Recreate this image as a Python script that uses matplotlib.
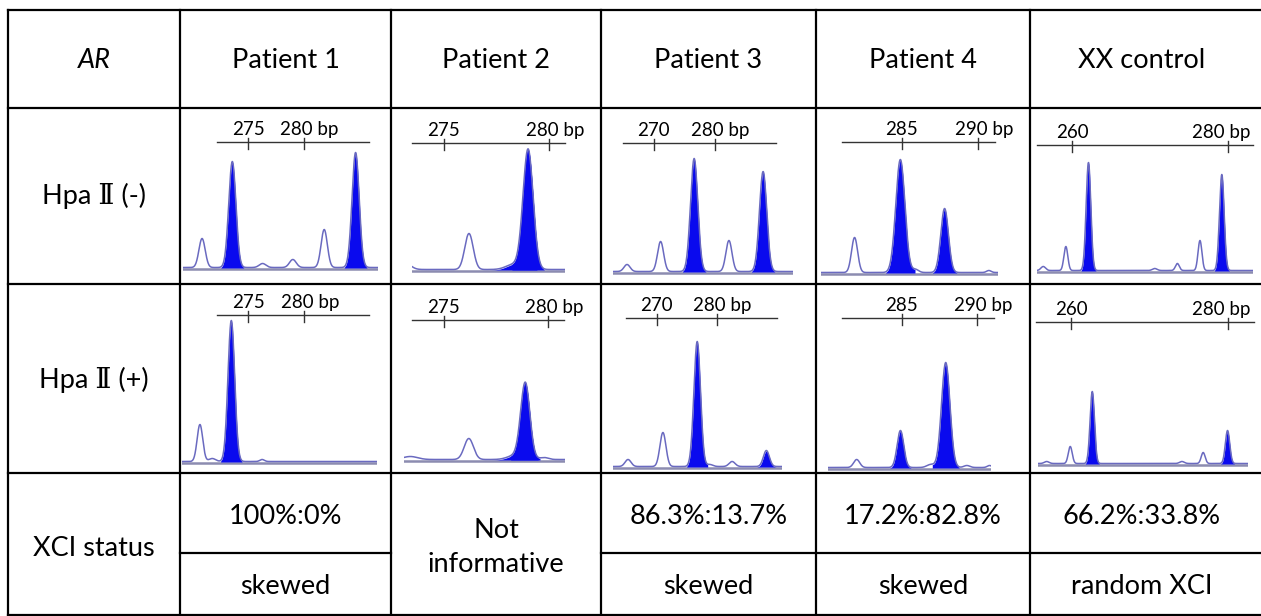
import matplotlib
matplotlib.use("Agg")
import matplotlib.pyplot as plt
import numpy as np

plt.rcParams["font.family"] = ["Lato", "DejaVu Sans"]

# table text
ROW_LABELS = ["Hpa \u2161 (-)", "Hpa \u2161 (+)", "XCI status"]
COLUMNS = ["Patient 1", "Patient 2", "Patient 3", "Patient 4", "XX control"]
XCI_RATIO = ["100%:0%", None, "86.3%:13.7%", "17.2%:82.8%", "66.2%:33.8%"]
XCI_CALL = ["skewed", None, "skewed", "skewed", "random XCI"]
NOT_INFORMATIVE = "Not\ninformative"

# size scale (bp) per column
TICK_BP = [[275, 280], [275, 280], [270, 280], [285, 290], [260, 280]]
TICK_LABELS = [["275", "280 bp"], ["275", "280 bp"], ["270", "280 bp"],
               ["285", "290 bp"], ["260", "280 bp"]]
SCALE_BP = [(272.2, 285.8), (273.5, 280.75), (264.9, 290.0), (281.05, 291.1), (255.5, 283.2)]

# Hpa II (-) traces: peak position (bp), height, width (bp), filled
TRACE_BP_MINUS = [(269.2, 286.6), (273.5, 280.75), (263.3, 292.8), (279.7, 291.3), (255.5, 283.2)]
PEAK_POS_MINUS = [
    [270.9, 273.6, 276.3, 279.0, 281.8, 284.6],
    [273.2, 276.2, 278.3, 279.0],
    [265.6, 271.1, 276.6, 282.3, 287.9],
    [281.9, 284.9, 285.9, 287.8, 290.7],
    [256.3, 259.2, 262.1, 270.6, 273.5, 276.4, 279.2],
]
PEAK_HEIGHT_MINUS = [
    [29, 106, 4, 8, 38, 115],
    [6, 36, 5, 120],
    [7, 30, 113, 31, 100],
    [35, 113, 3, 64, 2],
    [4, 24, 108, 2, 7, 30, 96],
]
PEAK_WIDTH_MINUS = [
    [0.28, 0.32, 0.3, 0.3, 0.28, 0.32],
    [0.25, 0.2, 0.35, 0.24],
    [0.5, 0.5, 0.6, 0.5, 0.6],
    [0.2, 0.3, 0.2, 0.25, 0.15],
    [0.3, 0.25, 0.3, 0.3, 0.25, 0.25, 0.3],
]
PEAK_FILLED_MINUS = [
    [0, 1, 0, 0, 0, 1],
    [0, 0, 1, 1],
    [0, 0, 1, 0, 1],
    [0, 1, 0, 1, 0],
    [0, 0, 1, 0, 0, 0, 1],
]

# Hpa II (+) traces
TRACE_BP_PLUS = [(269.1, 286.5), (273.1, 280.8), (262.7, 290.8), (280.1, 290.9), (255.8, 282.5)]
PEAK_POS_PLUS = [
    [270.7, 271.8, 273.5, 276.25],
    [273.4, 276.2, 278.4, 278.9, 279.8],
    [265.2, 271.0, 276.7, 278.8, 282.5, 288.2],
    [282.0, 284.9, 286.9, 287.9, 289.3, 290.8],
    [256.9, 259.9, 262.7, 274.1, 276.8, 279.9],
]
PEAK_HEIGHT_PLUS = [
    [37, 3, 141, 2],
    [3, 21, 4, 76, 2],
    [7, 34, 125, 2, 5, 16],
    [8, 37, 3, 105, 2, 2],
    [2, 17, 72, 2, 11, 33],
]
PEAK_WIDTH_PLUS = [
    [0.25, 0.3, 0.3, 0.2],
    [0.35, 0.22, 0.35, 0.22, 0.2],
    [0.5, 0.5, 0.55, 0.5, 0.5, 0.5],
    [0.2, 0.22, 0.25, 0.28, 0.2, 0.15],
    [0.3, 0.25, 0.28, 0.3, 0.25, 0.28],
]
PEAK_FILLED_PLUS = [
    [0, 0, 1, 0],
    [0, 0, 1, 1, 0],
    [0, 0, 1, 0, 0, 1],
    [0, 1, 0, 1, 0, 0],
    [0, 0, 1, 0, 0, 1],
]

W, H = 1261, 616
COL_X = [8, 180, 391, 601, 816, 1030, 1262]
ROW_Y = [10, 108, 284, 473, 615]
SPLIT_Y = 553

# panel placement in pixels: trace left/right, baseline y, scale line y
PANEL_X_MINUS = [(183, 378), (412, 565), (613, 793), (821, 998), (1037, 1253)]
PANEL_X_PLUS = [(182, 377), (404, 565), (613, 782), (828, 991), (1038, 1248)]
BASE_Y_MINUS = [268, 270, 272, 273, 271]
BASE_Y_PLUS = [462, 460, 467, 468, 464]
SCALE_Y_MINUS = [142, 143, 143, 142, 145]
SCALE_Y_PLUS = [315, 320, 318, 318, 322]

BLUE = "#0a0aee"
TRACE = "#6a6ac0"
BASELINE = "#8c8cb0"


def draw_panel(fig, col, xpx, base_y, scale_y, trace_bp, pos, height, width, filled):
    top = scale_y - 40
    bottom = base_y + 8
    ax = fig.add_axes([xpx[0] / W, 1 - bottom / H, (xpx[1] - xpx[0]) / W, (bottom - top) / H])
    ax.set_xlim(*trace_bp)
    ax.set_ylim(-(bottom - base_y), base_y - top)
    ax.axis("off")
    ax.patch.set_alpha(0)

    x = np.linspace(trace_bp[0], trace_bp[1], 1500)
    y = np.zeros_like(x)
    for p, h, w in zip(pos, height, width):
        y += h * np.exp(-0.5 * ((x - p) / w) ** 2)

    for p, w, f in zip(pos, width, filled):
        if f:
            m = np.abs(x - p) < 3.2 * w
            ax.fill_between(x[m], 0, y[m], color=BLUE, lw=0, zorder=2)
    ax.plot(x, y + 0.5, color=TRACE, lw=1.1, zorder=3)
    ax.plot(x, np.full_like(x, -1.5), color=BASELINE, lw=1.8, zorder=1)

    # size scale bar
    sy = base_y - scale_y
    ax.plot(SCALE_BP[col], [sy, sy], color="#333333", lw=1.0, clip_on=False)
    for t, lab in zip(TICK_BP[col], TICK_LABELS[col]):
        ax.plot([t, t], [sy + 4, sy - 7], color="#333333", lw=1.0, clip_on=False)
        dx = 0
        if "bp" in lab:
            dx = -5 if col == 4 else 4
        ax.annotate(lab, (t, sy), xytext=(dx, 3), textcoords="offset points",
                    ha="center", va="bottom", fontsize=13.5, annotation_clip=False)


fig = plt.figure(figsize=(W / 100, H / 100), dpi=100)
bg = fig.add_axes([0, 0, 1, 1])
bg.set_xlim(0, W)
bg.set_ylim(H, 0)
bg.axis("off")

lw = 1.6
for x in COL_X[:-1]:
    bg.plot([x, x], [ROW_Y[0], ROW_Y[-1]], color="black", lw=lw)
for y in ROW_Y:
    bg.plot([COL_X[0], W], [y, y], color="black", lw=lw)
bg.plot([COL_X[1], COL_X[2]], [SPLIT_Y, SPLIT_Y], color="black", lw=lw)
bg.plot([COL_X[3], W], [SPLIT_Y, SPLIT_Y], color="black", lw=lw)

fs = 19.5
cx = [(COL_X[i] + COL_X[i + 1]) / 2 for i in range(6)]
cx[5] = 1142
bg.text(cx[0], 60, "AR", ha="center", va="center", fontsize=fs, style="italic")
for i, name in enumerate(COLUMNS):
    bg.text(cx[i + 1], 60, name, ha="center", va="center", fontsize=fs)
row_cy = [196, 380, 548]
for lab, yy in zip(ROW_LABELS, row_cy):
    bg.text(cx[0], yy, lab, ha="center", va="center", fontsize=fs,
            family=["Lato", "DejaVu Serif"])

for i in range(5):
    if XCI_RATIO[i] is None:
        bg.text(cx[i + 1], 547, NOT_INFORMATIVE, ha="center", va="center",
                fontsize=fs, linespacing=1.45)
    else:
        bg.text(cx[i + 1], 516, XCI_RATIO[i], ha="center", va="center", fontsize=fs)
        bg.text(cx[i + 1], 587, XCI_CALL[i], ha="center", va="center", fontsize=fs)

for i in range(5):
    draw_panel(fig, i, PANEL_X_MINUS[i], BASE_Y_MINUS[i], SCALE_Y_MINUS[i], TRACE_BP_MINUS[i],
               PEAK_POS_MINUS[i], PEAK_HEIGHT_MINUS[i], PEAK_WIDTH_MINUS[i], PEAK_FILLED_MINUS[i])
    draw_panel(fig, i, PANEL_X_PLUS[i], BASE_Y_PLUS[i], SCALE_Y_PLUS[i], TRACE_BP_PLUS[i],
               PEAK_POS_PLUS[i], PEAK_HEIGHT_PLUS[i], PEAK_WIDTH_PLUS[i], PEAK_FILLED_PLUS[i])

fig.savefig("out.png", dpi=100)
